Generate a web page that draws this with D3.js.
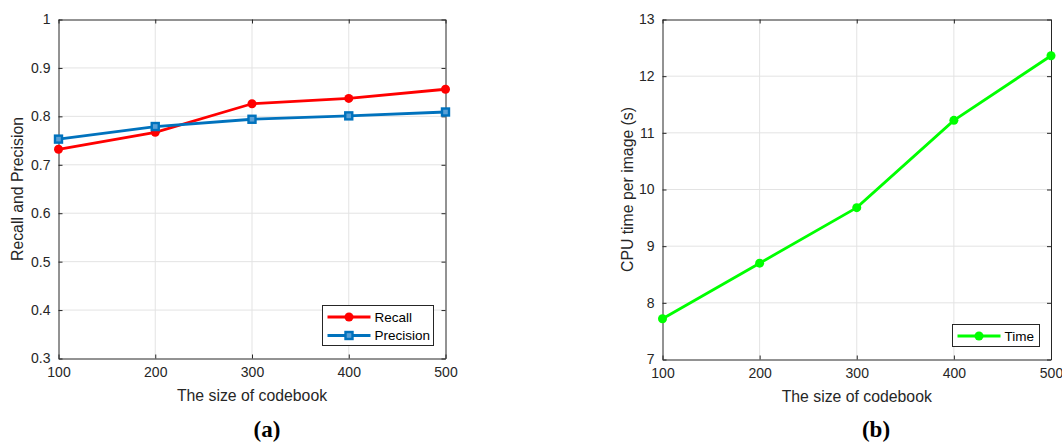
<!DOCTYPE html>
<html>
<head>
<meta charset="utf-8">
<script src="https://cdn.jsdelivr.net/npm/d3@7"></script>
<style>
  body { margin: 0; background: #fff; }
</style>
</head>
<body>
<div id="chart"></div>
<script>
// codebook sizes shared by both panels
const codebookSizes = [100, 200, 300, 400, 500];
const recall = [0.732, 0.767, 0.826, 0.837, 0.856];
const precision = [0.753, 0.779, 0.794, 0.801, 0.809];
const cpuTime = [7.72, 8.70, 9.68, 11.22, 12.36];

const recallTicks = [0.3, 0.4, 0.5, 0.6, 0.7, 0.8, 0.9, 1];
const timeTicks = [7, 8, 9, 10, 11, 12, 13];

const W = 1062, H = 445;
const sans = "'Liberation Sans', Arial, sans-serif";
const svg = d3.select("#chart").append("svg").attr("width", W).attr("height", H)
    .attr("font-family", sans);

const axisColor = "#262626", gridColor = "#e3e3e3";

function panel(opts) {
    const g = svg.append("g");
    const x = d3.scaleLinear().domain([100, 500]).range([opts.left, opts.right]);
    const y = d3.scaleLinear().domain(opts.yDomain).range([opts.bottom, opts.top]);

    // grid
    g.append("g").selectAll("line.gx").data(codebookSizes.slice(1, -1)).enter().append("line")
        .attr("x1", d => x(d)).attr("x2", d => x(d))
        .attr("y1", opts.top).attr("y2", opts.bottom)
        .attr("stroke", gridColor).attr("stroke-width", 1);
    g.append("g").selectAll("line.gy").data(opts.yTicks.slice(1, -1)).enter().append("line")
        .attr("x1", opts.left).attr("x2", opts.right)
        .attr("y1", d => y(d)).attr("y2", d => y(d))
        .attr("stroke", gridColor).attr("stroke-width", 1);

    // axes (inward ticks, box)
    const fmt = d => d3.format("")(d);
    const bottomAxis = d3.axisBottom(x).tickValues(codebookSizes).tickSizeInner(-4).tickSizeOuter(0).tickPadding(9).tickFormat(fmt);
    const topAxis = d3.axisTop(x).tickValues(codebookSizes).tickSizeInner(-4).tickSizeOuter(0).tickFormat("");
    const leftAxis = d3.axisLeft(y).tickValues(opts.yTicks).tickSizeInner(-4).tickSizeOuter(0).tickPadding(8).tickFormat(fmt);
    const rightAxis = d3.axisRight(y).tickValues(opts.yTicks).tickSizeInner(-4).tickSizeOuter(0).tickFormat("");

    const styleAxis = sel => {
        sel.attr("font-family", sans).attr("font-size", 14);
        sel.selectAll("path, line").attr("stroke", axisColor);
        sel.selectAll("text").attr("fill", axisColor);
    };
    g.append("g").attr("transform", `translate(0,${opts.bottom})`).call(bottomAxis).call(styleAxis);
    g.append("g").attr("transform", `translate(0,${opts.top})`).call(topAxis).call(styleAxis);
    g.append("g").attr("transform", `translate(${opts.left},0)`).call(leftAxis).call(styleAxis);
    g.append("g").attr("transform", `translate(${opts.right},0)`).call(rightAxis).call(styleAxis);

    // axis labels
    g.append("text").attr("x", (opts.left + opts.right) / 2).attr("y", opts.bottom + 42)
        .attr("text-anchor", "middle").attr("font-size", 15.8).attr("fill", axisColor)
        .text("The size of codebook");
    g.append("text")
        .attr("transform", `translate(${opts.yLabelX},${(opts.top + opts.bottom) / 2}) rotate(-90)`)
        .attr("text-anchor", "middle").attr("font-size", 15.8).attr("fill", axisColor)
        .text(opts.yLabel);

    // series
    const line = d3.line().x((d, i) => x(codebookSizes[i])).y(d => y(d));
    opts.series.forEach(s => {
        g.append("path").datum(s.values).attr("d", line)
            .attr("fill", "none").attr("stroke", s.color).attr("stroke-width", 2.8);
        drawMarkers(g, s, s.values.map((v, i) => [x(codebookSizes[i]), y(v)]));
    });

    // legend
    const lg = g.append("g");
    lg.append("rect").attr("x", opts.legend.x).attr("y", opts.legend.y)
        .attr("width", opts.legend.w).attr("height", opts.legend.h)
        .attr("fill", "#fff").attr("stroke", axisColor).attr("stroke-width", 1);
    opts.series.forEach((s, i) => {
        const ly = opts.legend.y + 11.5 + i * 18.5;
        const lx0 = opts.legend.x + 5, lx1 = opts.legend.x + 48;
        lg.append("line").attr("x1", lx0).attr("x2", lx1).attr("y1", ly).attr("y2", ly)
            .attr("stroke", s.color).attr("stroke-width", 2.8);
        drawMarkers(lg, s, [[(lx0 + lx1) / 2, ly]]);
        lg.append("text").attr("x", opts.legend.x + 52).attr("y", ly + 4.8)
            .attr("font-size", 13.5).attr("fill", "#000").text(s.name);
    });

    // panel caption
    g.append("text").attr("x", opts.captionX).attr("y", 437)
        .attr("text-anchor", "middle").attr("font-size", 23).attr("font-weight", "bold")
        .attr("font-family", "'Liberation Serif', 'DejaVu Serif', serif").attr("fill", "#000")
        .text(opts.caption);
}

function drawMarkers(g, s, pts) {
    if (s.marker === "circle") {
        g.selectAll(null).data(pts).enter().append("circle")
            .attr("cx", d => d[0]).attr("cy", d => d[1]).attr("r", 4.5)
            .attr("fill", s.color);
    } else {
        g.selectAll(null).data(pts).enter().append("rect")
            .attr("x", d => d[0] - 3.5).attr("y", d => d[1] - 3.5)
            .attr("width", 7).attr("height", 7)
            .attr("fill", "#5aa0d6").attr("stroke", s.color).attr("stroke-width", 2.4);
    }
}

panel({
    left: 58.5, right: 445.5, top: 19.5, bottom: 358.5,
    yDomain: [0.3, 1], yTicks: recallTicks,
    yLabel: "Recall and Precision", yLabelX: 23,
    series: [
        {name: "Recall", values: recall, color: "#ff0000", marker: "circle"},
        {name: "Precision", values: precision, color: "#0072bd", marker: "square"}
    ],
    legend: {x: 322.5, y: 305.5, w: 111, h: 40},
    caption: "(a)", captionX: 267
});

panel({
    left: 662.5, right: 1051, top: 19.5, bottom: 359.5,
    yDomain: [7, 13], yTicks: timeTicks,
    yLabel: "CPU time per image (s)", yLabelX: 632.5,
    series: [
        {name: "Time", values: cpuTime, color: "#00ff00", marker: "circle"}
    ],
    legend: {x: 952.5, y: 324.5, w: 87, h: 22},
    caption: "(b)", captionX: 876
});
</script>
</body>
</html>
